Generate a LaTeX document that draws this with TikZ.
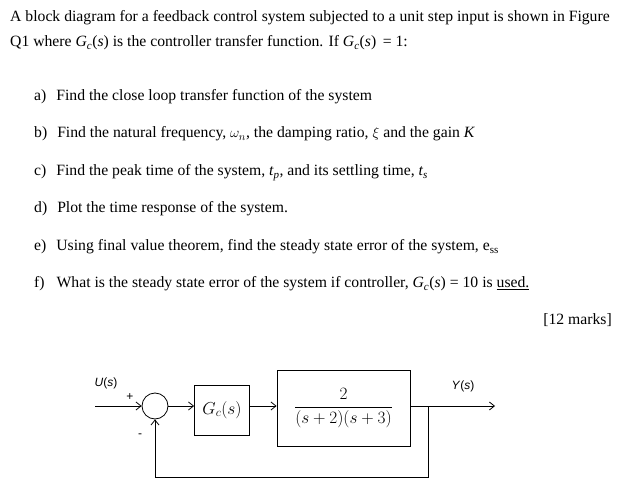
\documentclass[tikz,border=0pt]{standalone}
\usepackage{fontspec}
\setmainfont{Liberation Serif}
\newfontfamily\dsans{Liberation Sans}
\usetikzlibrary{arrows.meta}
\begin{document}
\begin{tikzpicture}[x=1pt,y=-1pt,
 txt/.style={anchor=base west,inner sep=0pt,font=\fontsize{15.7}{18}\selectfont},
 blk/.style={draw,thick,minimum height=50pt,inner sep=0pt,font=\fontsize{18}{20}\selectfont},
 lab/.style={font=\dsans\fontsize{12}{14}\selectfont,inner sep=0pt},
 sig/.style={thick,-{Straight Barb[length=5pt,width=8pt]}}]
\useasboundingbox (0,0) rectangle (643,497);
\node[txt] (l1) at (10,22) {A block diagram for a feedback control system subjected to a unit step input is shown in Figure};
\node[txt] (l2) at (10,47) {Q1 where \textit{G\textsubscript{c}}(\textit{s}) is the controller transfer function. If \textit{G\textsubscript{c}}(\textit{s})\, = 1:};
\node[txt] (a) at (34,101) {a)\hspace{10pt}Find the close loop transfer function of the system};
\node[txt] (b) at (34,138) {b)\hspace{10pt}Find the natural frequency, $\omega_n$, the damping ratio, $\xi$ and the gain \textit{K}};
\node[txt] (c) at (34,176) {c)\hspace{10pt}Find the peak time of the system, \textit{t\textsubscript{p}}, and its settling time, \textit{t\textsubscript{s}}};
\node[txt] (d) at (34,213) {d)\hspace{10pt}Plot the time response of the system.};
\node[txt] (e) at (34,251) {e)\hspace{10pt}Using final value theorem, find the steady state error of the system, e\textsubscript{ss}};
\node[txt] (f) at (34,288) {f)\hspace{12pt}What is the steady state error of the system if controller, \textit{G\textsubscript{c}}(\textit{s}) = 10 is \underline{used.}};
\node[txt,anchor=base east] (m) at (612,324) {[12 marks]};
% diagram
\node[lab] (u) at (106,383) {\textit{U}(\textit{s})};
\node[lab] (y) at (463,386) {\textit{Y}(\textit{s})};
\node[lab] (p) at (130,397) {+};
\node[lab] (mi) at (140,436) {-};
\coordinate (in) at (95,406);
\node[draw,thick,circle,minimum size=26pt,inner sep=0pt] (s) at (155,406) {};
\node[blk,minimum width=55pt] (g) at (222,410) {$G_c(s)$};
\node[blk,minimum width=133pt,minimum height=76pt] (h) at (343.5,408) {$\displaystyle\frac{2}{(s+2)(s+3)}$};
\coordinate (out) at (495,406);
\coordinate (br) at (428,406);
\coordinate (fb) at (428,477);
\draw[sig] (in) -- (s.west);
\draw[sig] (s.east) -- (g.west |- s.east);
\draw[sig] (g.east |- s.east) -- (h.west |- s.east);
\draw[sig] (h.east |- s.east) -- (out);
\draw[thick,-{Straight Barb[length=5pt,width=8pt]}] (br) -- (fb) -| (s.south);
\end{tikzpicture}
\end{document}
